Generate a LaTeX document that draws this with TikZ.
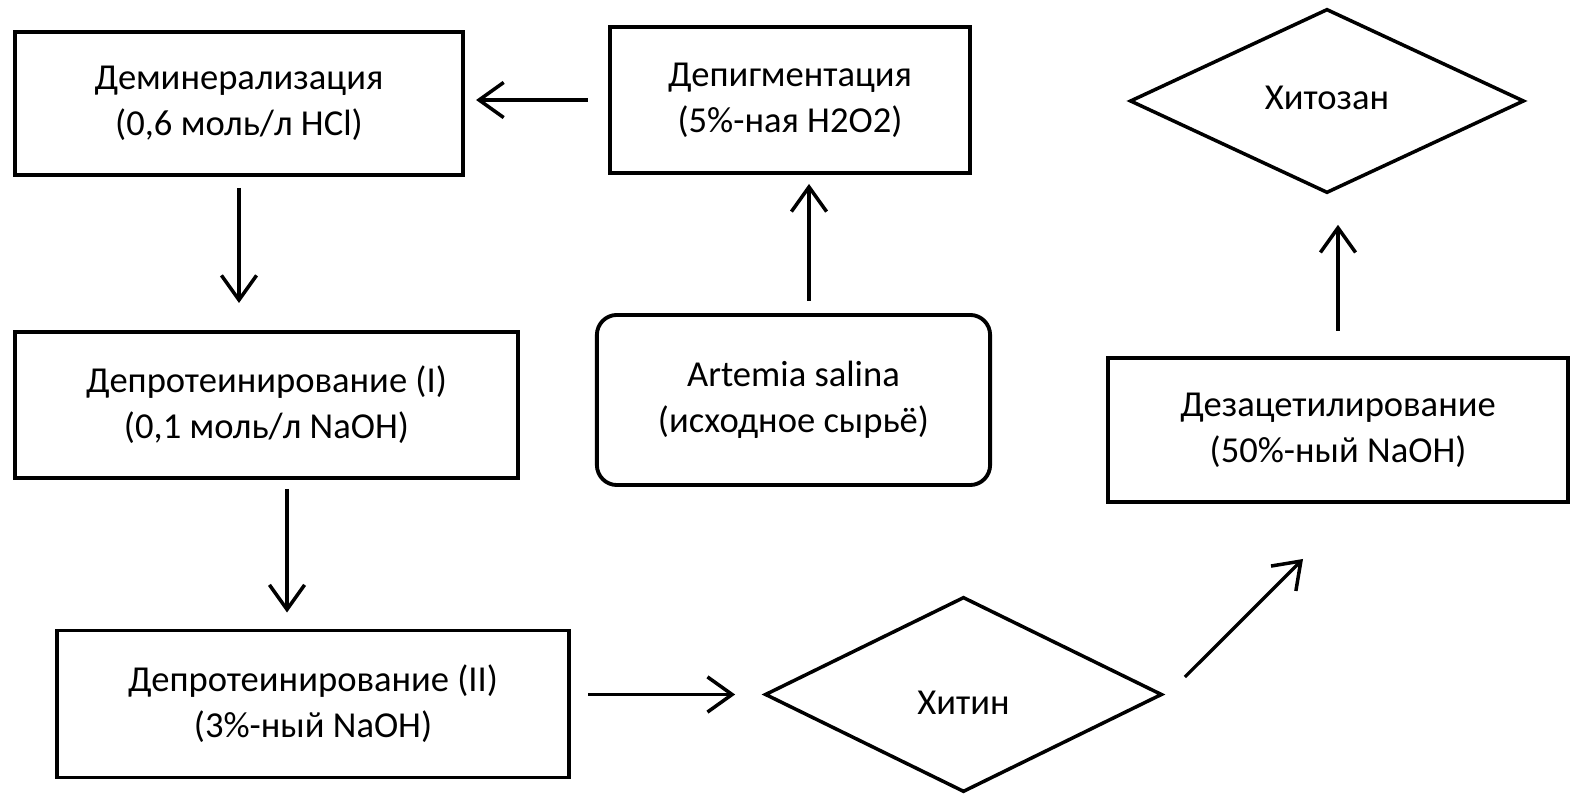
\documentclass[tikz,border=0pt]{standalone}
\usepackage{fontspec}
\setmainfont{Carlito}
\usepackage{tikz}
\usetikzlibrary{arrows.meta,shapes.geometric,calc}

\tikzset{
  box/.style={draw, line width=1.1pt, align=center, inner sep=0pt,
    font=\fontsize{10.4pt}{13pt}\selectfont},
  rbox/.style={box, rounded corners=0.2cm},
  prod/.style={box, diamond, line width=1pt},
  arr/.style={line width=0.95pt, -{Straight Barb[length=7pt,width=10pt,line width=1pt]}}
}

\begin{document}
\begin{tikzpicture}[x=0.01cm, y=-0.01cm]
  \useasboundingbox (0,0) rectangle (1572,795);

  % process steps
  \node[box, minimum width=4.48cm, minimum height=1.43cm] (demin) at (239,103.5)
    {Деминерализация\\(0,6 моль/л HCl)};
  \node[box, minimum width=3.60cm, minimum height=1.46cm] (depigm) at (790,100)
    {Депигментация\\(5\%-ная H2O2)};
  \node[box, minimum width=5.03cm, minimum height=1.46cm] (deprotI) at (266.5,405)
    {Депротеинирование (I)\\(0,1 моль/л NaOH)\hspace{0.8em}};
  \node[box, minimum width=5.12cm, minimum height=1.47cm] (deprotII) at (313,704)
    {Депротеинирование (II)\\(3\%-ный NaOH)\hspace{0.6em}};
  \node[rbox, minimum width=3.93cm, minimum height=1.70cm] (artemia) at (793.5,400)
    {Artemia salina\hspace{0.6em}\\(исходное сырьё)};
  \node[box, minimum width=4.60cm, minimum height=1.44cm] (deacet) at (1338,430)
    {Дезацетилирование\\(50\%-ный NaOH)};

  % products
  \node[prod, minimum width=3.97cm, minimum height=1.95cm] (chitin) at (963.5,694.5)
    {\raisebox{-2.3pt}[\height][\depth]{Хитин}};
  \node[prod, minimum width=3.94cm, minimum height=1.84cm] (chitosan) at (1327,101)
    {\raisebox{1pt}[\height][\depth]{Хитозан}};

  % arrows
  \draw[arr, shorten <=0.2cm, shorten >=0.11cm] (depigm.west) -- (demin.east |- depigm.west);
  \draw[arr, shorten <=0.11cm, shorten >=0.27cm] (demin.south) -- (demin.south |- deprotI.north);
  \draw[arr, shorten <=0.09cm, shorten >=0.16cm]
    ([xshift=0.205cm]deprotI.south) -- ([xshift=0.205cm]deprotI.south |- deprotII.north);
  \draw[arr, shorten <=0.17cm, shorten >=0.28cm] (deprotII.east |- chitin.west) -- (chitin.west);
  \draw[arr, shorten <=0.12cm, shorten >=0.09cm]
    ([xshift=0.155cm]artemia.north) -- ([xshift=0.155cm]artemia.north |- depigm.south);
  \draw[arr] ($(chitin.east)+(21,-17.5)$) -- ($(deacet.south)+(-35,55)$);
  \draw[arr, shorten <=0.25cm, shorten >=0.3cm] (deacet.north) -- (deacet.north |- chitosan.south);
\end{tikzpicture}
\end{document}
